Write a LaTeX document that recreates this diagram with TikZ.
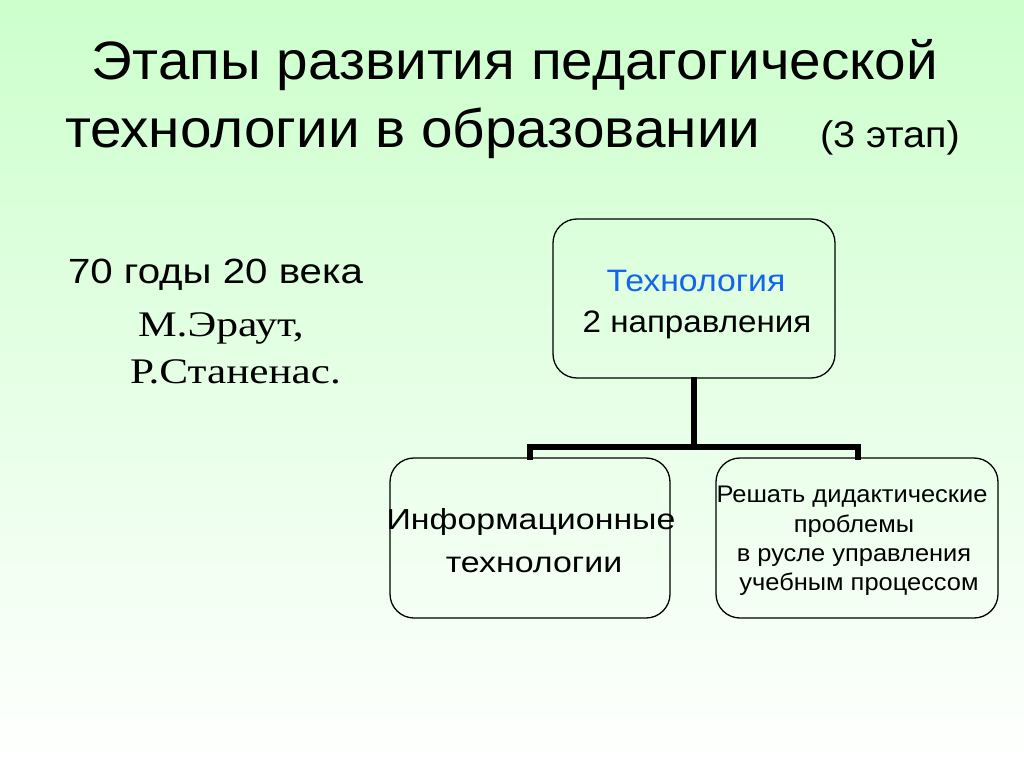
\documentclass[tikz,border=0pt]{standalone}
\usepackage{fontspec}
\setmainfont{Liberation Sans}
\newfontfamily\serifcyr{Liberation Serif}
\definecolor{bgtop}{RGB}{204,255,204}
\definecolor{bgbot}{RGB}{255,255,255}
\definecolor{techblue}{RGB}{20,100,240}
\begin{document}
\begin{tikzpicture}[x=1pt,y=-1pt,
  rbox/.style={draw=black,line width=1.3pt,rounded corners=24pt},
  conn/.style={line width=6pt,line cap=butt},
  txt/.style={inner sep=0pt,outer sep=0pt}]
\shade[top color=bgtop,bottom color=bgbot] (0,0) rectangle (1024,767);
\useasboundingbox (0,0) rectangle (1024,767);
% title
\node[txt,anchor=base,xscale=1.05,font=\fontsize{54}{54}\selectfont] (t1) at (515,80) {Этапы развития педагогической};
\node[txt,anchor=base west,xscale=1.05,font=\fontsize{54}{54}\selectfont] (t2) at (65,148) {технологии в образовании};
\node[txt,anchor=base west,xscale=1.07,font=\fontsize{37}{37}\selectfont] (t3) at (820,148) {(3 этап)};
% left texts
\node[txt,anchor=base west,xscale=1.15,font=\fontsize{35}{35}\selectfont] (yr) at (68,283) {70 годы 20 века};
\node[txt,anchor=base west,xscale=1.21,font=\fontsize{36}{36}\serifcyr] (a1) at (138,336) {М.Эраут,};
\node[txt,anchor=base west,xscale=1.2,font=\fontsize{36}{36}\serifcyr] (a2) at (130,383) {Р.Станенас.};
% boxes
\draw[rbox] (553,219) rectangle (835,378);
\coordinate (topb) at (694,377);
\draw[rbox] (390,458) rectangle (670,618);
\draw[rbox] (716,458) rectangle (998,618);
\node[txt,anchor=base,xscale=1.09,font=\fontsize{31}{31}\selectfont,text=techblue] (tb1) at (696,291) {Технология};
\node[txt,anchor=base,xscale=1.07,font=\fontsize{31}{31}\selectfont] (tb2) at (697,332) {2 направления};
\node[txt,anchor=base,xscale=1.17,font=\fontsize{29}{29}\selectfont] (l1) at (531,529) {Информационные};
\node[txt,anchor=base,xscale=1.17,font=\fontsize{29}{29}\selectfont] (l2) at (534,572) {технологии};
\node[txt,anchor=base,xscale=1.06,font=\fontsize{24}{24}\selectfont] (r1) at (852,502) {Решать дидактические};
\node[txt,anchor=base,xscale=1.06,font=\fontsize{24}{24}\selectfont] (r2) at (854,532) {проблемы};
\node[txt,anchor=base,xscale=1.06,font=\fontsize{24}{24}\selectfont] (r3) at (854,561) {в русле управления};
\node[txt,anchor=base,xscale=1.06,font=\fontsize{24}{24}\selectfont] (r4) at (859,590) {учебным процессом};
% connectors
\coordinate (bar) at (694,447);
\coordinate (lb) at (530,460);
\coordinate (rb) at (858,460);
\draw[conn] (topb) -- (bar);
\draw[conn,line join=miter] (lb) |- (bar) -| (rb);
\end{tikzpicture}
\end{document}
